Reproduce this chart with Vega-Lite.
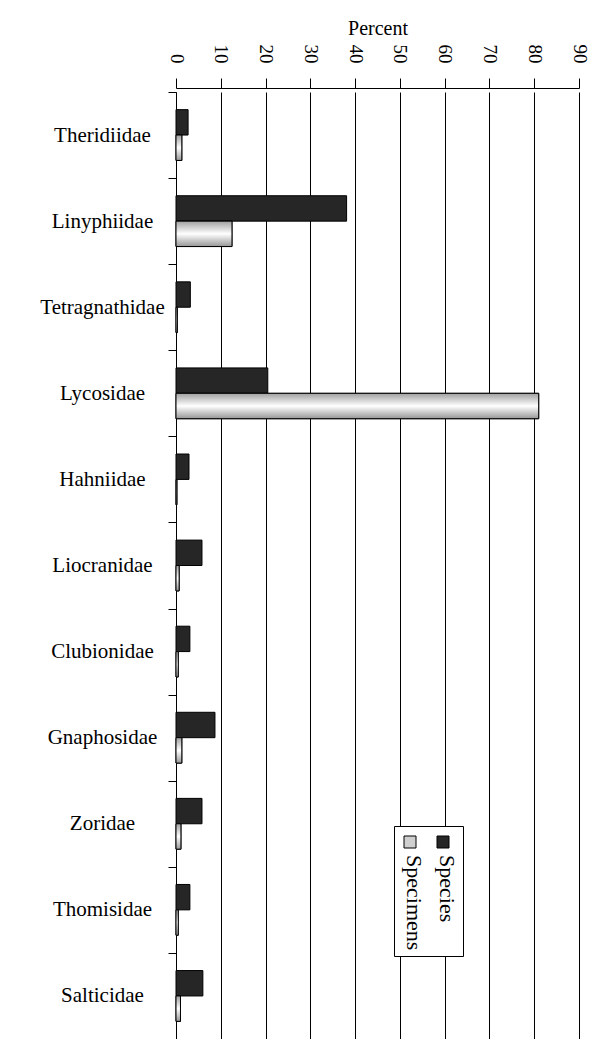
{
  "$schema": "https://vega.github.io/schema/vega-lite/v6.json",
  "width": 403,
  "height": 951,
  "padding": {"left": 39, "top": 18, "right": 12, "bottom": 0},
  "background": "white",
  "config": {
    "font": "Liberation Serif",
    "view": {"stroke": null}
  },
  "data": {
    "values": [
      {"family": "Theridiidae", "series": "Species", "percent": 2.7},
      {"family": "Theridiidae", "series": "Specimens", "percent": 1.3},
      {"family": "Linyphiidae", "series": "Species", "percent": 38.1},
      {"family": "Linyphiidae", "series": "Specimens", "percent": 12.5},
      {"family": "Tetragnathidae", "series": "Species", "percent": 3.2},
      {"family": "Tetragnathidae", "series": "Specimens", "percent": 0.3},
      {"family": "Lycosidae", "series": "Species", "percent": 20.5},
      {"family": "Lycosidae", "series": "Specimens", "percent": 81.0},
      {"family": "Hahniidae", "series": "Species", "percent": 2.9},
      {"family": "Hahniidae", "series": "Specimens", "percent": 0.2},
      {"family": "Liocranidae", "series": "Species", "percent": 5.8},
      {"family": "Liocranidae", "series": "Specimens", "percent": 0.7},
      {"family": "Clubionidae", "series": "Species", "percent": 3.1},
      {"family": "Clubionidae", "series": "Specimens", "percent": 0.5},
      {"family": "Gnaphosidae", "series": "Species", "percent": 8.7},
      {"family": "Gnaphosidae", "series": "Specimens", "percent": 1.3},
      {"family": "Zoridae", "series": "Species", "percent": 5.8},
      {"family": "Zoridae", "series": "Specimens", "percent": 1.1},
      {"family": "Thomisidae", "series": "Species", "percent": 3.1},
      {"family": "Thomisidae", "series": "Specimens", "percent": 0.5},
      {"family": "Salticidae", "series": "Species", "percent": 6.0},
      {"family": "Salticidae", "series": "Specimens", "percent": 1.0}
    ]
  },
  "encoding": {
    "y": {
      "field": "family",
      "type": "nominal",
      "sort": null,
      "title": null,
      "scale": {"paddingInner": 0.41, "paddingOuter": 0.205, "range": [4, 951]},
      "axis": {
        "labelFont": "Liberation Serif",
        "labelFontSize": 21,
        "labelColor": "black",
        "labelAlign": "center",
        "labelBaseline": "middle",
        "labelPadding": 66,
        "labelLimit": 300,
        "tickSize": 8,
        "tickColor": "black",
        "domainColor": "black",
        "tickOffset": -43.05,
        "labelOffset": 43.05,
        "grid": false
      }
    },
    "yOffset": {
      "field": "series",
      "type": "nominal",
      "scale": {"domain": ["Species", "Specimens"], "paddingInner": 0, "paddingOuter": 0}
    },
    "x": {
      "field": "percent",
      "type": "quantitative",
      "scale": {"domain": [0, 90], "nice": false},
      "axis": {
        "orient": "top",
        "title": "Percent",
        "titleFont": "Liberation Serif",
        "titleFontSize": 20,
        "titleFontWeight": "normal",
        "titleColor": "black",
        "titlePadding": 6,
        "values": [0, 10, 20, 30, 40, 50, 60, 70, 80, 90],
        "labelFont": "Liberation Serif",
        "labelAngle": 90,
        "labelAlign": "right",
        "labelBaseline": "middle",
        "labelFontSize": 19,
        "labelColor": "black",
        "labelPadding": 15,
        "tickSize": 10,
        "tickColor": "black",
        "domainColor": "black",
        "grid": true,
        "gridColor": "black",
        "gridOpacity": 1,
        "gridWidth": 1
      }
    }
  },
  "layer": [
    {
      "mark": {"type": "bar", "stroke": "black", "strokeWidth": 1},
      "encoding": {
        "fill": {
          "field": "series",
          "type": "nominal",
          "scale": {"domain": ["Species", "Specimens"], "range": ["#262626", "#cfcfcf"]},
          "legend": {
            "title": null,
            "orient": "none",
            "legendX": 218,
            "legendY": 738,
            "direction": "horizontal",
            "columns": 2,
            "gridAlign": "none",
            "values": ["Specimens", "Species"],
            "strokeColor": "black",
            "fillColor": "white",
            "padding": 5,
            "columnPadding": 6,
            "symbolType": "square",
            "symbolSize": 144,
            "symbolStrokeColor": "black",
            "symbolStrokeWidth": 1,
            "labelFont": "Liberation Serif",
            "labelFontSize": 22,
            "labelColor": "black",
            "labelAlign": "left",
            "labelBaseline": "middle",
            "labelOffset": -7,
            "encoding": {
              "labels": {
                "angle": {"value": 90},
                "y": {"value": 24}
              }
            }
          }
        }
      }
    },
    {
      "transform": [{"filter": "datum.series === 'Specimens'"}],
      "mark": {
        "type": "bar",
        "stroke": "black",
        "strokeWidth": 1,
        "fill": {
          "gradient": "linear",
          "x1": 0, "y1": 0, "x2": 0, "y2": 1,
          "stops": [
            {"offset": 0, "color": "#a0a0a0"},
            {"offset": 0.5, "color": "#ffffff"},
            {"offset": 1, "color": "#969696"}
          ]
        }
      },
      "encoding": {}
    }
  ]
}
